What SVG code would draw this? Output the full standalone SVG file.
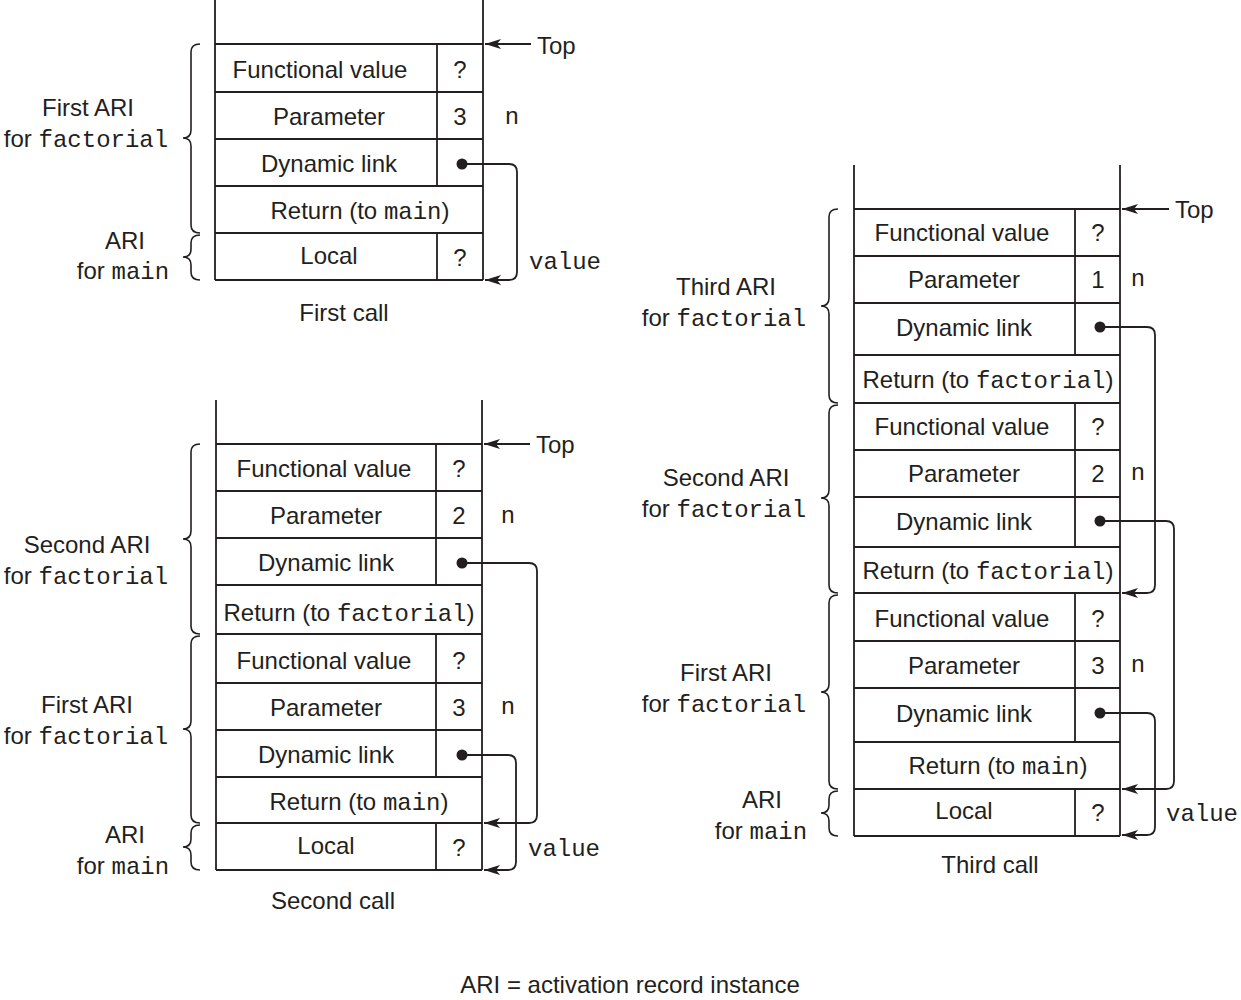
<svg xmlns="http://www.w3.org/2000/svg" width="1241" height="1000" viewBox="0 0 1241 1000">
<style>
.ln{stroke:#231f20;stroke-width:1.8;fill:none}
.t{font-family:"Liberation Sans",Arial,sans-serif;font-size:24px;fill:#231f20}
.c{text-anchor:middle}
.m{font-family:"Liberation Mono","Courier New",monospace}
.br{stroke:#231f20;stroke-width:1.6;fill:none}
.dot{fill:#231f20}
</style>
<defs>
<marker id="ah" viewBox="0 0 16 10" refX="16" refY="5" markerWidth="16" markerHeight="10" markerUnits="userSpaceOnUse" orient="auto">
<path d="M0,0 L16,5 L0,10 L4,5 z" fill="#231f20"/>
</marker>
</defs>
<rect width="1241" height="1000" fill="#fff"/>

<!-- First call -->
<g id="stack1">
<path class="ln" d="M215,0 V280 M483,0 V280 M215,44 H483 M215,92 H483 M215,139 H483 M215,186 H483 M215,233 H483 M215,280 H483 M437,44 V186 M437,233 V280"/>
<text class="t c" x="320" y="78">Functional value</text><text class="t c" x="460" y="78">?</text>
<text class="t c" x="329" y="125">Parameter</text><text class="t c" x="460" y="125">3</text>
<text class="t c" x="329" y="172">Dynamic link</text>
<text class="t c" x="360" y="219">Return (to <tspan class="m">main</tspan>)</text>
<text class="t c" x="329" y="264">Local</text><text class="t c" x="460" y="266">?</text>
<text class="t c" x="344" y="321">First call</text>
</g>
<g id="labels1">
<text class="t m" x="512" y="124" text-anchor="middle">n</text>
<text class="t m" x="529" y="269">value</text>
<text class="t" x="537" y="54">Top</text>
<path class="br" d="M200,44 Q191,44 191,52 V130 Q191,138 183,138 Q191,138 191,146 V225 Q191,233 200,233"/>
<path class="br" d="M200,235 Q191,235 191,243 V249 Q191,257 183,257 Q191,257 191,265 V272 Q191,280 200,280"/>
<text class="t c" x="88" y="116">First ARI</text>
<text class="t c" x="86" y="147">for <tspan class="m">factorial</tspan></text>
<text class="t c" x="125" y="249">ARI</text>
<text class="t c" x="123" y="279">for <tspan class="m">main</tspan></text>
</g>

<!-- Second call -->
<g id="stack2">
<path class="ln" d="M216,400 V870 M482,400 V870 M216,444 H482 M216,491 H482 M216,538 H482 M216,585 H482 M216,634 H482 M216,683 H482 M216,730 H482 M216,777 H482 M216,823 H482 M216,870 H482 M436,444 V585 M436,634 V777 M436,823 V870"/>
<text class="t c" x="324" y="477">Functional value</text><text class="t c" x="459" y="477">?</text>
<text class="t c" x="326" y="524">Parameter</text><text class="t c" x="459" y="524">2</text>
<text class="t c" x="326" y="571">Dynamic link</text>
<text class="t c" x="349" y="621">Return (to <tspan class="m">factorial</tspan>)</text>
<text class="t c" x="324" y="669">Functional value</text><text class="t c" x="459" y="669">?</text>
<text class="t c" x="326" y="716">Parameter</text><text class="t c" x="459" y="716">3</text>
<text class="t c" x="326" y="763">Dynamic link</text>
<text class="t c" x="359" y="810">Return (to <tspan class="m">main</tspan>)</text>
<text class="t c" x="326" y="854">Local</text><text class="t c" x="459" y="856">?</text>
<text class="t c" x="333" y="909">Second call</text>
</g>
<g id="labels2">
<text class="t m" x="508" y="523" text-anchor="middle">n</text>
<text class="t m" x="508" y="714" text-anchor="middle">n</text>
<text class="t m" x="528" y="856">value</text>
<text class="t" x="536" y="453">Top</text>
<path class="br" d="M200,444 Q191,444 191,452 V531 Q191,539 183,539 Q191,539 191,547 V626 Q191,634 200,634"/>
<path class="br" d="M200,636 Q191,636 191,644 V721 Q191,729 183,729 Q191,729 191,737 V815 Q191,823 200,823"/>
<path class="br" d="M200,825 Q191,825 191,833 V839 Q191,847 183,847 Q191,847 191,855 V862 Q191,870 200,870"/>
<text class="t c" x="87" y="553">Second ARI</text>
<text class="t c" x="86" y="584">for <tspan class="m">factorial</tspan></text>
<text class="t c" x="87" y="713">First ARI</text>
<text class="t c" x="86" y="744">for <tspan class="m">factorial</tspan></text>
<text class="t c" x="125" y="843">ARI</text>
<text class="t c" x="123" y="874">for <tspan class="m">main</tspan></text>
</g>

<!-- Third call -->
<g id="stack3">
<path class="ln" d="M854,165 V836 M1120,165 V836 M854,209 H1120 M854,256 H1120 M854,303 H1120 M854,355 H1120 M854,403 H1120 M854,450 H1120 M854,497 H1120 M854,547 H1120 M854,593 H1120 M854,641 H1120 M854,688 H1120 M854,742 H1120 M854,789 H1120 M854,836 H1120 M1075,209 V355 M1075,403 V547 M1075,593 V742 M1075,789 V836"/>
<text class="t c" x="962" y="241">Functional value</text><text class="t c" x="1098" y="241">?</text>
<text class="t c" x="964" y="288">Parameter</text><text class="t c" x="1098" y="288">1</text>
<text class="t c" x="964" y="336">Dynamic link</text>
<text class="t c" x="988" y="388">Return (to <tspan class="m">factorial</tspan>)</text>
<text class="t c" x="962" y="435">Functional value</text><text class="t c" x="1098" y="435">?</text>
<text class="t c" x="964" y="482">Parameter</text><text class="t c" x="1098" y="482">2</text>
<text class="t c" x="964" y="530">Dynamic link</text>
<text class="t c" x="988" y="579">Return (to <tspan class="m">factorial</tspan>)</text>
<text class="t c" x="962" y="627">Functional value</text><text class="t c" x="1098" y="627">?</text>
<text class="t c" x="964" y="674">Parameter</text><text class="t c" x="1098" y="674">3</text>
<text class="t c" x="964" y="722">Dynamic link</text>
<text class="t c" x="998" y="774">Return (to <tspan class="m">main</tspan>)</text>
<text class="t c" x="964" y="819">Local</text><text class="t c" x="1098" y="821">?</text>
<text class="t c" x="990" y="873">Third call</text>
</g>
<g id="labels3">
<text class="t m" x="1138" y="286" text-anchor="middle">n</text>
<text class="t m" x="1138" y="480" text-anchor="middle">n</text>
<text class="t m" x="1138" y="672" text-anchor="middle">n</text>
<text class="t m" x="1166" y="821">value</text>
<text class="t" x="1175" y="218">Top</text>
<path class="br" d="M838,209 Q829,209 829,217 V298 Q829,306 821,306 Q829,306 829,314 V395 Q829,403 838,403"/>
<path class="br" d="M838,405 Q829,405 829,413 V490 Q829,498 821,498 Q829,498 829,506 V585 Q829,593 838,593"/>
<path class="br" d="M838,595 Q829,595 829,603 V684 Q829,692 821,692 Q829,692 829,700 V781 Q829,789 838,789"/>
<path class="br" d="M838,791 Q829,791 829,799 V805 Q829,813 821,813 Q829,813 829,821 V828 Q829,836 838,836"/>
<text class="t c" x="726" y="295">Third ARI</text>
<text class="t c" x="724" y="326">for <tspan class="m">factorial</tspan></text>
<text class="t c" x="726" y="486">Second ARI</text>
<text class="t c" x="724" y="517">for <tspan class="m">factorial</tspan></text>
<text class="t c" x="726" y="681">First ARI</text>
<text class="t c" x="724" y="712">for <tspan class="m">factorial</tspan></text>
<text class="t c" x="762" y="808">ARI</text>
<text class="t c" x="761" y="839">for <tspan class="m">main</tspan></text>
</g>

<g id="connectors">
<path class="ln" marker-end="url(#ah)" d="M531,44 H485"/>
<path class="ln" marker-end="url(#ah)" d="M530,444 H484"/>
<path class="ln" marker-end="url(#ah)" d="M1169,209 H1122"/>
<circle class="dot" cx="462" cy="164" r="5.5"/>
<path class="ln" marker-end="url(#ah)" d="M462,164 H509 Q517,164 517,172 V272 Q517,280 509,280 H485"/>
<circle class="dot" cx="462" cy="563" r="5.5"/>
<path class="ln" marker-end="url(#ah)" d="M462,563 H529 Q537,563 537,571 V815 Q537,823 529,823 H484"/>
<circle class="dot" cx="462" cy="755" r="5.5"/>
<path class="ln" marker-end="url(#ah)" d="M462,755 H508 Q516,755 516,763 V862 Q516,870 508,870 H484"/>
<circle class="dot" cx="1100" cy="327" r="5.5"/>
<path class="ln" marker-end="url(#ah)" d="M1100,327 H1147 Q1155,327 1155,335 V585 Q1155,593 1147,593 H1122"/>
<circle class="dot" cx="1100" cy="521" r="5.5"/>
<path class="ln" marker-end="url(#ah)" d="M1100,521 H1166 Q1174,521 1174,529 V781 Q1174,789 1166,789 H1122"/>
<circle class="dot" cx="1100" cy="713" r="5.5"/>
<path class="ln" marker-end="url(#ah)" d="M1100,713 H1147 Q1155,713 1155,721 V827 Q1155,835 1147,835 H1122"/>
</g>

<text class="t c" x="630" y="993">ARI = activation record instance</text>
</svg>
